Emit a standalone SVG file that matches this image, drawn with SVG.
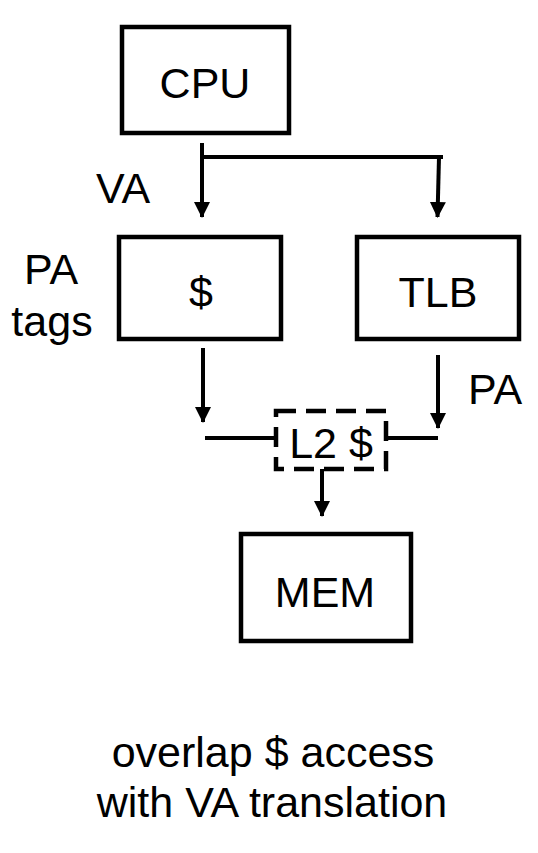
<svg xmlns="http://www.w3.org/2000/svg" width="538" height="853" viewBox="0 0 538 853">
<style>
.box{fill:#fff;stroke:#000;stroke-width:4.5}
.dash{fill:none;stroke:#000;stroke-width:4.5;stroke-dasharray:20 10}
.wire{fill:none;stroke:#000;stroke-width:4}
text{font-family:"Liberation Sans",Arial,sans-serif;font-size:43px;fill:#000}
.c{text-anchor:middle}
</style>
<defs>
<marker id="ah" markerUnits="userSpaceOnUse" markerWidth="16" markerHeight="18" refX="15" refY="8" orient="auto">
<path d="M0,0 L16,8 L0,16 Z" fill="#000"/>
</marker>
</defs>
<g id="connectors">
<path class="wire" d="M202,143 V217" marker-end="url(#ah)"/>
<path class="wire" d="M202,157 H443"/>
<path class="wire" d="M439,157 L437.5,217" marker-end="url(#ah)"/>
<path class="wire" d="M203,348 V422" marker-end="url(#ah)"/>
<path class="wire" d="M205,438 H275"/>
<path class="wire" d="M438,355 V428" marker-end="url(#ah)"/>
<path class="wire" d="M387,438 H438"/>
<path class="wire" d="M322,469 V516" marker-end="url(#ah)"/>
</g>
<g id="cpu">
<rect class="box" x="122" y="27" width="167" height="106"/>
<text class="c" x="205" y="98">CPU</text>
</g>
<g id="cache">
<rect class="box" x="119" y="237" width="162" height="102"/>
<text class="c" x="201" y="307">$</text>
</g>
<g id="tlb">
<rect class="box" x="357" y="237" width="162" height="102"/>
<text class="c" x="438" y="307">TLB</text>
</g>
<g id="l2">
<rect class="dash" x="276" y="411" width="110" height="58"/>
<text class="c" x="331" y="458">L2 $</text>
</g>
<g id="mem">
<rect class="box" x="241" y="534" width="170" height="107"/>
<text class="c" x="325" y="607">MEM</text>
</g>
<g id="labels">
<text x="96" y="203">VA</text>
<text class="c" x="51" y="284">PA</text>
<text class="c" x="52" y="336">tags</text>
<text x="468" y="404">PA</text>
<text class="c" x="273" y="767">overlap $ access</text>
<text class="c" x="272" y="817">with VA translation</text>
</g>
</svg>
